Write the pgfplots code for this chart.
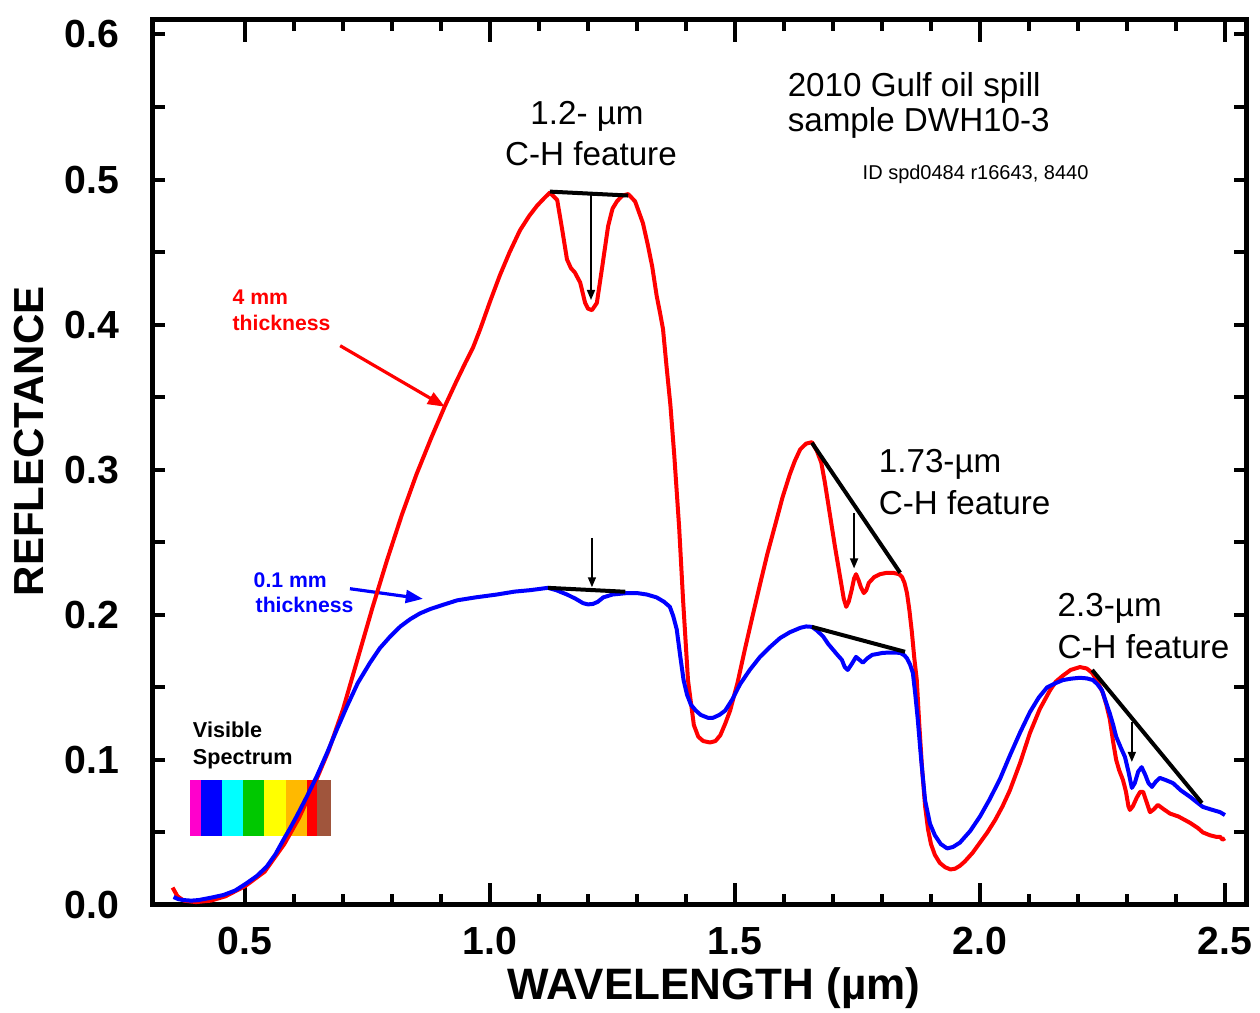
\documentclass[border=0pt]{standalone}
\usepackage{fontspec}
\setmainfont{Liberation Sans}
\usepackage{pgfplots}
\usepackage{pgfplotstable}
\pgfplotsset{compat=1.18}
\usetikzlibrary{arrows.meta}

\definecolor{cmag}{RGB}{255,0,204}
\definecolor{cblu}{RGB}{0,0,255}
\definecolor{ccya}{RGB}{0,255,255}
\definecolor{cgrn}{RGB}{0,200,0}
\definecolor{cyel}{RGB}{255,255,0}
\definecolor{cora}{RGB}{255,185,0}
\definecolor{cred}{RGB}{255,0,0}
\definecolor{cbrn}{RGB}{160,85,60}

\pgfplotstableread{
x y
0.352 0.012
0.362 0.006
0.375 0.003
0.400 0.002
0.430 0.003
0.460 0.006
0.500 0.013
0.540 0.023
0.580 0.042
0.610 0.060
0.640 0.082
0.670 0.106
0.700 0.135
0.730 0.170
0.760 0.205
0.790 0.238
0.820 0.269
0.850 0.297
0.880 0.322
0.908 0.344
0.930 0.360
0.950 0.374
0.965 0.384
0.980 0.397
1.000 0.416
1.020 0.434
1.040 0.450
1.061 0.465
1.080 0.475
1.096 0.482
1.110 0.487
1.122 0.491
1.137 0.486
1.147 0.466
1.157 0.445
1.165 0.439
1.173 0.436
1.184 0.429
1.194 0.415
1.200 0.411
1.208 0.410
1.218 0.415
1.229 0.440
1.241 0.468
1.250 0.480
1.259 0.485
1.270 0.489
1.282 0.490
1.296 0.485
1.312 0.470
1.322 0.455
1.331 0.440
1.340 0.420
1.347 0.408
1.353 0.397
1.360 0.372
1.368 0.345
1.376 0.310
1.386 0.260
1.394 0.210
1.404 0.155
1.416 0.124
1.425 0.116
1.435 0.113
1.449 0.112
1.460 0.113
1.470 0.117
1.480 0.125
1.490 0.134
1.505 0.153
1.520 0.176
1.535 0.198
1.551 0.221
1.566 0.242
1.582 0.262
1.597 0.281
1.612 0.297
1.622 0.306
1.633 0.314
1.645 0.318
1.657 0.319
1.667 0.313
1.676 0.305
1.683 0.292
1.690 0.277
1.697 0.262
1.704 0.247
1.711 0.233
1.718 0.219
1.722 0.211
1.727 0.2055
1.732 0.209
1.738 0.217
1.743 0.225
1.747 0.228
1.752 0.224
1.757 0.219
1.763 0.215
1.768 0.217
1.773 0.222
1.784 0.226
1.796 0.228
1.810 0.229
1.822 0.229
1.835 0.228
1.841 0.226
1.846 0.222
1.851 0.215
1.856 0.203
1.861 0.188
1.866 0.170
1.871 0.155
1.876 0.125
1.882 0.093
1.888 0.068
1.894 0.052
1.900 0.042
1.908 0.0345
1.918 0.029
1.929 0.026
1.940 0.0245
1.949 0.025
1.959 0.027
1.969 0.030
1.985 0.036
2.000 0.043
2.015 0.050
2.031 0.0586
2.046 0.068
2.061 0.079
2.082 0.098
2.102 0.1186
2.122 0.135
2.143 0.148
2.155 0.154
2.169 0.158
2.185 0.162
2.204 0.164
2.218 0.163
2.229 0.160
2.240 0.154
2.251 0.146
2.258 0.138
2.265 0.128
2.272 0.112
2.278 0.100
2.284 0.093
2.292 0.086
2.298 0.078
2.303 0.068
2.306 0.0655
2.312 0.068
2.320 0.074
2.327 0.078
2.333 0.078
2.340 0.071
2.347 0.064
2.355 0.066
2.363 0.069
2.375 0.066
2.388 0.063
2.405 0.061
2.429 0.0566
2.445 0.053
2.455 0.050
2.470 0.048
2.482 0.047
2.490 0.047
2.495 0.045
2.500 0.046
}\redtab

\pgfplotstableread{
x y
0.354 0.0055
0.364 0.004
0.374 0.0034
0.390 0.003
0.405 0.0034
0.430 0.005
0.456 0.0069
0.480 0.010
0.503 0.015
0.524 0.020
0.544 0.0264
0.562 0.035
0.578 0.0448
0.592 0.053
0.605 0.061
0.626 0.0747
0.646 0.0885
0.667 0.1046
0.687 0.1207
0.708 0.137
0.730 0.153
0.755 0.167
0.775 0.177
0.796 0.185
0.817 0.192
0.837 0.197
0.857 0.201
0.878 0.204
0.905 0.207
0.933 0.210
0.970 0.212
1.014 0.214
1.050 0.216
1.082 0.217
1.118 0.2186
1.135 0.217
1.157 0.214
1.175 0.211
1.190 0.208
1.200 0.2072
1.210 0.2075
1.220 0.209
1.231 0.212
1.250 0.214
1.280 0.215
1.300 0.215
1.320 0.214
1.340 0.212
1.355 0.209
1.367 0.2055
1.374 0.199
1.381 0.190
1.388 0.172
1.395 0.155
1.402 0.145
1.410 0.138
1.420 0.134
1.430 0.131
1.445 0.129
1.455 0.129
1.468 0.131
1.480 0.134
1.495 0.142
1.510 0.152
1.530 0.162
1.551 0.171
1.572 0.178
1.592 0.184
1.612 0.188
1.633 0.191
1.645 0.192
1.657 0.1917
1.668 0.189
1.680 0.185
1.690 0.180
1.700 0.176
1.710 0.172
1.718 0.169
1.724 0.164
1.730 0.162
1.738 0.166
1.747 0.171
1.754 0.169
1.761 0.167
1.770 0.170
1.780 0.1724
1.790 0.173
1.802 0.1738
1.820 0.174
1.837 0.1738
1.846 0.172
1.851 0.170
1.857 0.166
1.863 0.160
1.868 0.145
1.873 0.128
1.880 0.100
1.888 0.072
1.898 0.056
1.908 0.048
1.920 0.042
1.933 0.039
1.945 0.040
1.959 0.043
1.980 0.051
2.000 0.061
2.020 0.073
2.041 0.087
2.061 0.103
2.082 0.119
2.102 0.133
2.120 0.143
2.137 0.150
2.155 0.153
2.169 0.155
2.186 0.156
2.204 0.1566
2.218 0.1562
2.231 0.155
2.240 0.152
2.249 0.148
2.257 0.140
2.265 0.132
2.272 0.124
2.278 0.116
2.288 0.108
2.296 0.102
2.303 0.092
2.310 0.0807
2.316 0.084
2.323 0.092
2.330 0.095
2.337 0.090
2.344 0.084
2.351 0.0814
2.359 0.085
2.367 0.0876
2.380 0.086
2.394 0.084
2.410 0.079
2.429 0.0745
2.442 0.071
2.455 0.0676
2.470 0.066
2.480 0.065
2.490 0.064
2.500 0.062
}\bluetab

\begin{document}
\begin{tikzpicture}
\begin{axis}[
  at={(0,0)}, anchor=south west,
  scale only axis, width=273.25pt, height=221.25pt,
  xmin=0.312, xmax=2.543, ymin=0, ymax=0.610,
  axis line style={line width=1.25pt},
  xtick={0.5,1.0,1.5,2.0,2.5}, minor x tick num=4,
  ytick={0,0.1,0.2,0.3,0.4,0.5,0.6}, minor y tick num=1,
  tick align=inside,
  xtick pos=both, ytick pos=both,
  xticklabel pos=lower, yticklabel pos=left,
  tick style={line width=1pt, black},
  xtick style={/pgfplots/major tick length=5.5pt,/pgfplots/minor tick length=2.75pt},
  ytick style={/pgfplots/major tick length=3pt,/pgfplots/minor tick length=3pt},
  /pgf/number format/.cd, fixed, fixed zerofill, precision=1, assume math mode=true,
  /pgfplots/.cd,
  ticklabel style={font=\bfseries\fontsize{9.8}{10}\selectfont},
  xticklabel style={yshift=-2pt},
  yticklabel style={xshift=-5pt},
  xlabel={WAVELENGTH (µm)},
  ylabel={REFLECTANCE},
  xlabel style={font=\bfseries\fontsize{11}{12}\selectfont, at={(axis description cs:0.513,-0.094)}, anchor=center},
  ylabel style={font=\bfseries\fontsize{10.5}{12}\selectfont, at={(axis description cs:-0.1134,0.524)}, anchor=center},
  clip=false,
]
% visible spectrum bar
\fill[cmag] (axis cs:0.388,0.0476) rectangle (axis cs:0.410,0.0862);
\fill[cblu] (axis cs:0.410,0.0476) rectangle (axis cs:0.453,0.0862);
\fill[ccya] (axis cs:0.453,0.0476) rectangle (axis cs:0.496,0.0862);
\fill[cgrn] (axis cs:0.496,0.0476) rectangle (axis cs:0.539,0.0862);
\fill[cyel] (axis cs:0.539,0.0476) rectangle (axis cs:0.584,0.0862);
\fill[cora] (axis cs:0.584,0.0476) rectangle (axis cs:0.627,0.0862);
\fill[cred] (axis cs:0.627,0.0476) rectangle (axis cs:0.647,0.0862);
\fill[cbrn] (axis cs:0.647,0.0476) rectangle (axis cs:0.676,0.0862);

% thickness arrows
\draw[cred, line width=0.8pt, -{Triangle[length=4.3pt,width=3.2pt]}] (axis cs:0.694,0.3855) -- (axis cs:0.908,0.3434);
\draw[cblu, line width=0.8pt, -{Triangle[length=4.3pt,width=3.2pt]}] (axis cs:0.714,0.218) -- (axis cs:0.863,0.211);

\addplot[cred, line width=1pt, line join=round] table[x=x,y=y] {\redtab};
\addplot[cblu, line width=1pt, line join=round] table[x=x,y=y] {\bluetab};

% continuum lines
\draw[black, line width=1pt] (axis cs:1.122,0.4917) -- (axis cs:1.282,0.489);
\draw[black, line width=1pt] (axis cs:1.118,0.2186) -- (axis cs:1.276,0.2159);
\draw[black, line width=1pt] (axis cs:1.657,0.3186) -- (axis cs:1.837,0.229);
\draw[black, line width=1pt] (axis cs:1.657,0.1917) -- (axis cs:1.847,0.1745);
\draw[black, line width=1pt] (axis cs:2.229,0.162) -- (axis cs:2.453,0.0703);
% depth arrows
\draw[black, line width=0.4pt, -{Triangle[length=2.5pt,width=2pt]}] (axis cs:1.206,0.490) -- (axis cs:1.206,0.417);
\draw[black, line width=0.4pt, -{Triangle[length=2.5pt,width=2pt]}] (axis cs:1.208,0.253) -- (axis cs:1.208,0.219);
\draw[black, line width=0.4pt, -{Triangle[length=2.5pt,width=2pt]}] (axis cs:1.743,0.270) -- (axis cs:1.743,0.232);
\draw[black, line width=0.4pt, -{Triangle[length=2.5pt,width=2pt]}] (axis cs:2.310,0.126) -- (axis cs:2.310,0.0986);

% texts
\node[anchor=base west, inner sep=0, font=\fontsize{8.3}{9}\selectfont] at (axis cs:1.606,0.557) {2010 Gulf oil spill};
\node[anchor=base west, inner sep=0, font=\fontsize{8.3}{9}\selectfont] at (axis cs:1.606,0.533) {sample DWH10-3};
\node[anchor=base west, inner sep=0, font=\fontsize{5}{6}\selectfont] at (axis cs:1.759,0.500) {ID spd0484 r16643, 8440};
\node[anchor=base, inner sep=0, font=\fontsize{8.3}{9}\selectfont] at (axis cs:1.198,0.538) {1.2- µm};
\node[anchor=base, inner sep=0, font=\fontsize{8.3}{9}\selectfont] at (axis cs:1.206,0.510) {C-H feature};
\node[anchor=base west, inner sep=0, font=\fontsize{8.3}{9}\selectfont] at (axis cs:1.792,0.298) {1.73-µm};
\node[anchor=base west, inner sep=0, font=\fontsize{8.3}{9}\selectfont] at (axis cs:1.792,0.269) {C-H feature};
\node[anchor=base west, inner sep=0, font=\fontsize{8.3}{9}\selectfont] at (axis cs:2.157,0.1986) {2.3-µm};
\node[anchor=base west, inner sep=0, font=\fontsize{8.3}{9}\selectfont] at (axis cs:2.157,0.170) {C-H feature};
\node[anchor=base west, inner sep=0, text=cred, font=\bfseries\fontsize{5.3}{6}\selectfont] at (axis cs:0.473,0.414) {4 mm};
\node[anchor=base west, inner sep=0, text=cred, font=\bfseries\fontsize{5.3}{6}\selectfont] at (axis cs:0.473,0.396) {thickness};
\node[anchor=base west, inner sep=0, text=cblu, font=\bfseries\fontsize{5.3}{6}\selectfont] at (axis cs:0.516,0.2186) {0.1 mm};
\node[anchor=base west, inner sep=0, text=cblu, font=\bfseries\fontsize{5.3}{6}\selectfont] at (axis cs:0.520,0.2014) {thickness};
\node[anchor=base west, inner sep=0, font=\bfseries\fontsize{5.4}{6}\selectfont] at (axis cs:0.392,0.1152) {Visible};
\node[anchor=base west, inner sep=0, font=\bfseries\fontsize{5.4}{6}\selectfont] at (axis cs:0.392,0.0966) {Spectrum};
\end{axis}
\pgfresetboundingbox
\useasboundingbox (-38.25pt,-27pt) rectangle (276.75pt,226.25pt);
\end{tikzpicture}
\end{document}
